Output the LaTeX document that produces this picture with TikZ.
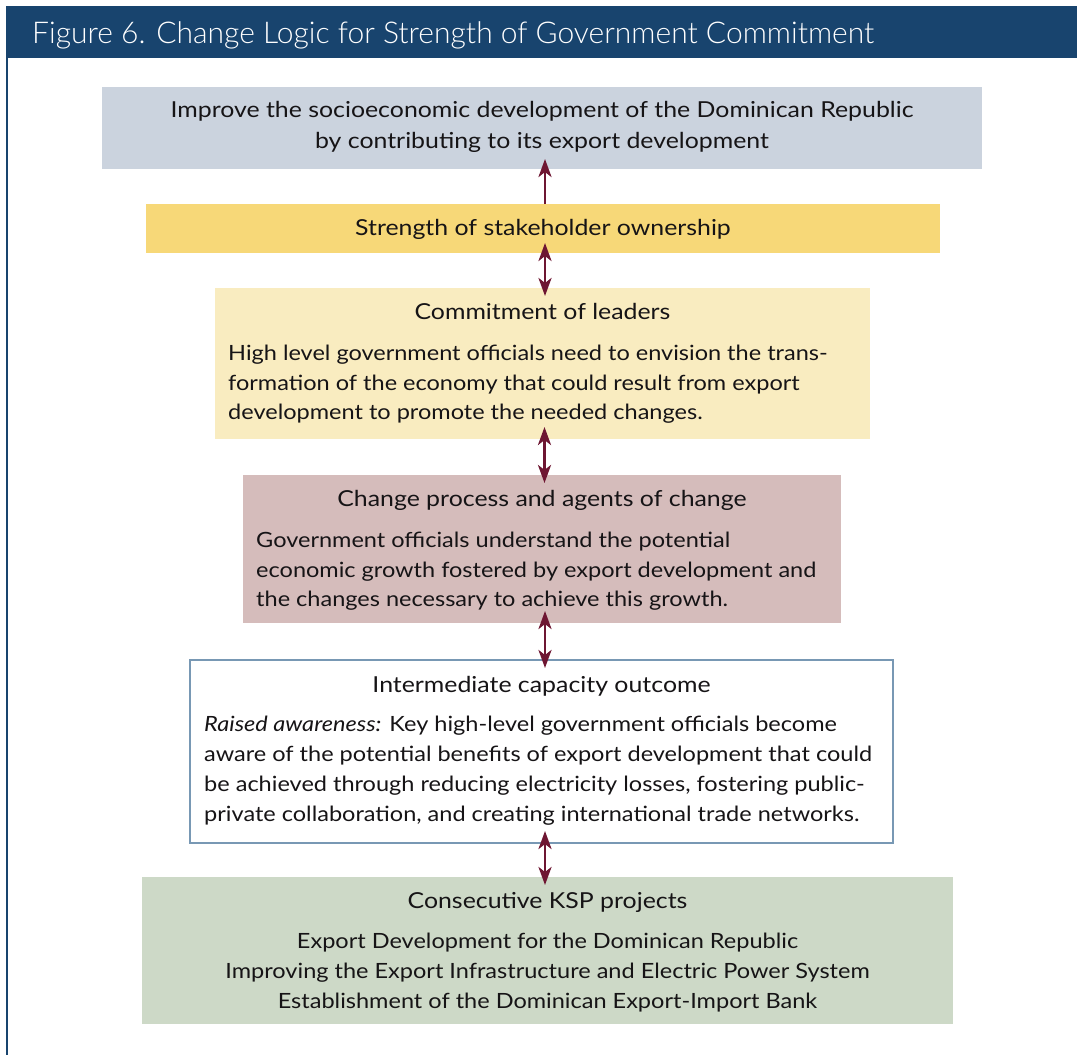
\documentclass[tikz,border=0pt]{standalone}
\usepackage{fontspec}
\setmainfont{Lato}
\newfontfamily\titlefont{Lato}[UprightFont=* Light]
\newfontfamily\bodyfont{Lato}[FakeStretch=1.12]
\newfontfamily\headfont{Lato}[FakeStretch=1.13]
\usetikzlibrary{arrows.meta,calc}
\definecolor{hdrblue}{RGB}{24,68,110}
\definecolor{greybox}{RGB}{203,211,222}
\definecolor{yellowbox}{RGB}{247,216,120}
\definecolor{lightyellow}{RGB}{249,236,192}
\definecolor{mauvebox}{RGB}{213,188,187}
\definecolor{greenbox}{RGB}{205,217,199}
\definecolor{arrowred}{RGB}{110,22,50}
\definecolor{frameblue}{RGB}{120,152,180}
\definecolor{textblack}{RGB}{22,20,22}
\begin{document}
\begin{tikzpicture}[x=1pt,y=-1pt,
  box/.style={draw=none,minimum width=#1,inner sep=0,outer sep=0,anchor=north west},
  head/.style={font=\headfont\fontsize{22}{30}\selectfont,text=textblack,inner sep=0,anchor=base},
  txt/.style={font=\bodyfont\fontsize{21}{30}\selectfont,text=textblack,inner sep=0,anchor=base},
  txtl/.style={font=\bodyfont\fontsize{21}{30}\selectfont,text=textblack,inner sep=0,anchor=base west},
  link/.style={draw=arrowred,line width=2.8pt,{Stealth[length=18pt,width=13pt,inset=5pt]}-{Stealth[length=18pt,width=13pt,inset=5pt]}},
  linkup/.style={draw=arrowred,line width=2.8pt,-{Stealth[length=18pt,width=13pt,inset=5pt]}}]
\useasboundingbox (0,0) rectangle (1077,1055);
\fill[white] (0,0) rectangle (1077,1055);
% header
\node[box=1071,minimum height=52,fill=hdrblue] (hdr) at (6,6) {};
\node[font=\titlefont\fontsize{30}{34}\selectfont,text=white,inner sep=0,anchor=base west] (title) at (32,43) {Figure 6. Change Logic for Strength of Government Commitment};
\draw[hdrblue,line width=1.5pt] (hdr.south west) ++(1,0) coordinate (lt) -- (7,1055) coordinate (lb);
% boxes
\node[box=880,minimum height=82,fill=greybox] (b1) at (102,87) {};
\node[box=794,minimum height=49,fill=yellowbox] (b2) at (146,204) {};
\node[box=655,minimum height=151,fill=lightyellow] (b3) at (215,288) {};
\node[box=598,minimum height=148,fill=mauvebox] (b4) at (243,475) {};
\node[box=703,minimum height=183,fill=white,draw=frameblue,line width=1.3pt] (b5) at (190,660) {};
\node[box=811,minimum height=147,fill=greenbox] (b6) at (142,877) {};
% arrows
\draw[linkup] ($(b2.north)+(2,0)$) -- ($(b1.south)+(3,-10)$);
\draw[link] ($(b2.south)+(2,-10)$) -- ($(b3.north)+(2.5,8)$);
\draw[link] ($(b3.south)+(2,-12)$) -- ($(b4.north)+(2.5,8)$);
\draw[link] ($(b4.south)+(3,-12)$) -- ($(b5.north)+(3.5,8)$);
\draw[link] ($(b5.south)+(3.5,-12)$) -- ($(b6.north)+(-2.5,8)$);
% texts
\node[head] (t1a) at (542,117) {Improve the socioeconomic development of the Dominican Republic};
\node[head] (t1b) at (542,148) {by contributing to its export development};
\node[head] (t2) at (543,235) {Strength of stakeholder ownership};
\node[head] (t3) at (542.5,319) {Commitment of leaders};
\node[txtl] (t3a) at (228,360) {High level government officials need to envision the trans-};
\node[txtl] (t3b) at (228,390) {formation of the economy that could result from export};
\node[txtl] (t3c) at (228,419) {development to promote the needed changes.};
\node[head] (t4) at (542,506) {Change process and agents of change};
\node[txtl] (t4a) at (256,547) {Government officials understand the potential};
\node[txtl] (t4b) at (256,577) {economic growth fostered by export development and};
\node[txtl] (t4c) at (256,606) {the changes necessary to achieve this growth.};
\node[head] (t5) at (541.5,692) {Intermediate capacity outcome};
\node[txtl] (t5a) at (204,731) {\itshape Raised awareness:\upshape{} Key high-level government officials become};
\node[txtl] (t5b) at (204,761) {aware of the potential benefits of export development that could};
\node[txtl] (t5c) at (204,791) {be achieved through reducing electricity losses, fostering public-};
\node[txtl] (t5d) at (204,821) {private collaboration, and creating international trade networks.};
\node[head] (t6) at (547.5,908) {Consecutive KSP projects};
\node[txt] (t6a) at (547.5,948) {Export Development for the Dominican Republic};
\node[txt] (t6b) at (547.5,978) {Improving the Export Infrastructure and Electric Power System};
\node[txt] (t6c) at (547.5,1008) {Establishment of the Dominican Export-Import Bank};
\end{tikzpicture}
\end{document}
